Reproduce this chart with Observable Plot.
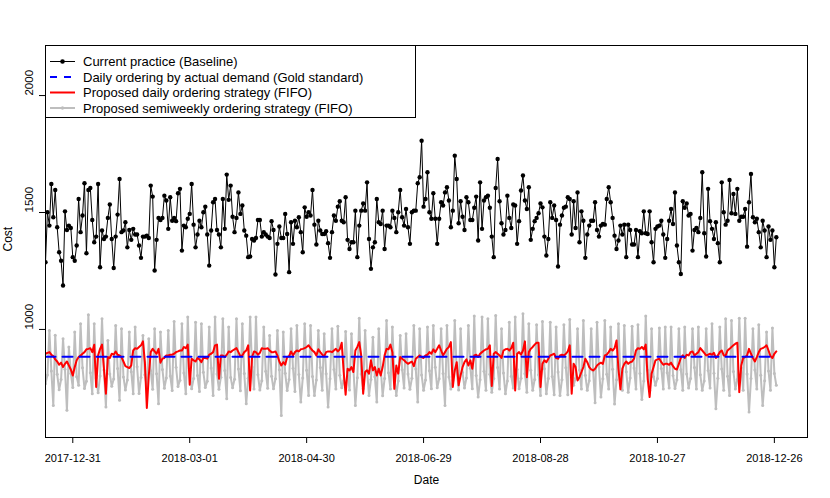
<!DOCTYPE html>
<html><head><meta charset="utf-8">
<script src="https://cdn.jsdelivr.net/npm/d3@7"></script>
<script src="https://cdn.jsdelivr.net/npm/@observablehq/plot@0.6"></script>
<style>
body{margin:0;background:#fff;}
#chart{position:relative;width:830px;height:498px;}
</style>
</head><body><div id="chart"></div>
<script>
// ---------- data ----------
const startDate = "2017-12-17";
const seriesNames = [
  "Current practice (Baseline)",
  "Daily ordering by actual demand (Gold standard)",
  "Proposed daily ordering strategy (FIFO)",
  "Proposed semiweekly ordering strategy (FIFO)"
];
const xTickLabels = ["2017-12-31","2018-03-01","2018-04-30","2018-06-29","2018-08-28","2018-10-27","2018-12-26"];
const yTicks = [1000, 1500, 2000];
const goldStandard = 883;

const baseline = [
1287,1501,1444,1622,1480,1596,1437,1330,1294,1188,1505,1425,1444,1434,1309,1294,1359,1558,1416,1487,
1625,1326,1596,1605,1468,1373,1397,1622,1266,1423,1387,1397,1477,1534,1387,1263,1397,1491,1643,1416,
1423,1458,1351,1425,1383,1430,1406,1406,1359,1306,1397,1397,1401,1391,1615,1568,1252,1383,1477,1468,
1477,1572,1551,1430,1565,1465,
1477,1463,1582,1601,1337,1444,1437,1473,1494,1622,1448,1351,1406,1465,1437,1501,1525,1406,1273,1423,
1544,1558,1425,1406,1351,1558,1430,1662,1554,1615,1482,1416,1477,1586,1494,1530,1423,1401,1309,1312,
1387,1380,1391,1468,1468,1397,1416,1406,1397,1391,1463,1425,1235,1366,1440,1391,1391,1494,1408,1245,
1458,1366,1465,
1437,1480,1416,1330,1522,1482,1501,1487,1596,1448,1363,1465,1423,1408,1408,1420,1369,1306,1416,1487,
1465,1525,1548,1465,1458,1565,1383,1344,1373,1373,1508,1309,1444,1508,1539,1508,1629,1387,1259,1351,
1373,1558,1458,1451,1508,1344,1444,1444,1437,1508,1477,1416,1501,1596,1480,1444,1515,1437,1366,1501,
1508,1508,1625,1651,
1807,1525,1558,1672,1501,1473,1582,1473,1366,1473,1544,1530,1586,1608,1551,1437,1508,1743,1643,1454,
1548,1482,1425,1565,1544,1468,1468,1520,1568,1380,1629,1430,1551,1565,1572,1520,1397,1309,1605,1729,
1548,1454,1406,1425,1572,1477,1434,1534,1530,1366,1463,1594,1658,1551,1515,1608,1383,1430,1463,1477,
1497,1539,1522,
1397,1316,1387,1544,1477,1530,1468,1269,1448,1487,1520,1525,1565,1558,1406,1548,1434,1586,1373,1505,
1465,1306,1406,1444,1465,1465,1544,1425,1397,1444,1451,1448,1558,1608,1544,1477,1401,1344,1380,1444,
1406,1448,1309,1448,1425,1363,1363,1425,1309,1420,1411,1505,1411,1408,1505,1373,1287,1430,1440,1444,
1465,1406,1306,
1387,1465,1515,1451,1586,1359,1287,1237,1548,1520,1539,1487,1494,1337,1425,1434,1416,1477,1672,1411,
1312,1601,1463,1430,1387,1458,1369,1287,1629,1501,1448,1465,1639,1497,1579,1494,1601,1465,1482,1482,
1515,1354,1544,1665,1480,1458,1473,1416,1351,1465,1423,1309,1440,1383,1423,1266,1394
];

const fifoDaily = [
896,900,903,892,886,872,863,849,858,839,853,863,846,829,803,839,868,882,889,896,
903,915,917,920,903,935,754,889,917,935,832,725,882,878,896,892,906,892,889,882,
863,843,839,835,846,910,920,917,925,932,949,860,664,803,903,917,906,896,917,858,
875,878,889,889,892,892,896,903,906,910,910,925,920,935,764,875,868,863,878,872,
860,878,878,875,892,896,903,932,935,789,889,889,882,892,906,903,910,915,920,903,
886,889,903,910,932,739,882,906,903,892,900,920,917,917,920,910,903,903,906,889,
863,846,860,849,882,886,
906,889,903,910,906,915,917,920,925,932,920,910,903,889,915,903,892,886,903,906,
906,903,910,917,906,915,943,818,721,832,825,839,818,910,925,946,889,725,818,825,
811,868,825,839,803,832,803,839,889,917,915,935,903,746,846,811,882,875,868,860,
853,858,863,843,875,882,889,882,878,889,892,903,896,915,903,917,932,910,
889,903,917,925,946,754,825,860,761,803,839,860,872,846,868,832,889,892,882,896,
903,910,915,917,932,758,896,903,896,889,878,910,915,917,910,920,943,739,896,903,
892,910,949,796,903,917,925,935,943,
943,754,853,868,860,875,889,892,896,878,875,889,892,889,896,906,932,725,853,839,
782,796,818,839,875,860,839,829,825,832,846,853,858,853,889,892,903,917,910,920,
953,832,744,832,853,863,853,860,863,875,910,920,917,925,915,935,789,711,811,839,
868,872,875,860,849,853,853,849,858,843,832,829,853,878,889,878,892,889,903,
906,889,896,903,920,910,900,889,892,896,892,900,878,889,903,910,889,889,910,
917,925,932,939,943,732,846,878,882,889,917,896,878,863,882,903,917,920,925,932,
910,886,878,896,906
];

const semiweekly = [
768,805,
996,822,675, 975,808,742,786, 960,830,654, 925,812,752, 989,798,761, 1024,836,748,779,
1063,815,725, 1024,792,729,801, 1046,827,668, 953,810,757,788, 1017,833,697, 1003,797,741,784,
989,819,725, 1010,840,726,795, 974,806,751, 960,823,744, 1003,811,682, 989,829,749,792,
996,801,739, 1034,838,756,783, 1024,814,725, 1053,826,746,790, 1031,803,735, 1024,817,752,778,
1010,835,718, 1053,809,744,796, 1046,824,704, 1010,795,751,787, 1046,831,738, 1024,812,682,791,
1053,839,745, 1053,806,741,781, 1010,821,749, 974,800,746,789, 996,828,632, 989,813,739,786,
1003,834,735,
1017,807,690,792, 1024,825,718, 1017,799,718,784, 996,837,740, 982,811,668,789, 1003,829,745,
1014,804,751,781, 991,820,741, 982,833,675,793, 1048,810,746, 996,826,718,786, 967,798,690,
1003,836,717,790, 1038,815,745, 1010,802,718,780, 974,828,750, 982,809,744,791, 1017,831,690,
1003,805,740,784, 1010,823,746, 1017,838,751,789, 1003,812,675, 1017,797,745,782, 1038,826,741,
1003,816,750,792, 1017,834,746, 1057,803,711,785, 1053,821,740, 1046,808,732,790, 1060,837,745,
1003,814,725,780, 1031,800,750, 1053,829,746,791, 1067,811,732, 1024,825,740,786,
1020,806,718, 1034,832,725,790, 1031,799,721, 1010,818,718,785, 1020,836,721, 1043,810,761,791,
1003,827,745, 1038,804,740,781, 1003,822,687, 1031,839,711,789, 1038,808,745, 1010,830,681,785,
1024,801,740, 1017,819,732,792, 1014,835,745, 1020,812,701,780, 1057,826,740, 1003,798,761,790,
1006,833,745, 1010,815,750, 1010,803,747,785, 1003,828,740, 1010,810,750,790, 1003,837,745,
1010,806,740,780, 1003,824,750, 1024,813,661,791, 1010,831,740, 1046,800,718, 1038,820,745,786,
1048,835,740, 1048,809,647,790, 1003,827,745, 1020,804,675,781, 989,822,740, 1006,812,761
];

// ---------- build tables ----------
const t0 = new Date(startDate + "T00:00:00Z");
const day = 864e5;
const toRows = vals => vals.map((v, i) => ({date: new Date(t0.getTime() + i * day), value: v}));
const baseRows = toRows(baseline);
const fifoRows = toRows(fifoDaily);
const semiRows = toRows(semiweekly);
const goldRows = baseRows.map(d => ({date: d.date, value: goldStandard}));
const xTicks = xTickLabels.map(s => new Date(s + "T00:00:00Z"));

const font = "'Liberation Sans', Arial, Helvetica, sans-serif";

const chart = Plot.plot({
  width: 830,
  height: 498,
  marginLeft: 45,
  marginRight: 23,
  marginTop: 45,
  marginBottom: 61,
  style: {fontFamily: font, background: "white", color: "black"},
  x: {type: "utc", domain: [new Date("2017-12-17T00:00:00Z"), new Date("2019-01-12T00:00:00Z")]},
  y: {domain: [538, 2214]},
  marks: [
    Plot.lineY(baseRows, {x: "date", y: "value", stroke: "black", strokeWidth: 1, clip: true}),
    Plot.dot(baseRows, {x: "date", y: "value", r: 2.2, fill: "black", stroke: "none", clip: true}),
    Plot.lineY(semiRows, {x: "date", y: "value", stroke: "#bebebe", strokeWidth: 2, clip: true}),
    Plot.dot(semiRows, {x: "date", y: "value", r: 1.5, fill: "#bebebe", stroke: "none", clip: true}),
    Plot.lineY(fifoRows, {x: "date", y: "value", stroke: "#ff0000", strokeWidth: 2, clip: true}),
    Plot.lineY(goldRows, {x: "date", y: "value", stroke: "#0000ff", strokeWidth: 2, strokeDasharray: "10,7", clip: true}),
    Plot.frame({stroke: "black"}),
    Plot.axisX({ticks: xTicks, tickFormat: d3.utcFormat("%Y-%m-%d"), tickSize: 6, tickPadding: 11, fontSize: 11, label: null}),
    Plot.axisY({ticks: yTicks, tickSize: 6, tickFormat: () => "", label: null}),
    Plot.text(yTicks, {y: d => d, frameAnchor: "left", dx: -16, rotate: -90, text: d => String(d), fontSize: 11.5}),
    Plot.text(["Date"], {frameAnchor: "bottom", dy: 46, text: d => d, fontSize: 12}),
    Plot.text(["Cost"], {frameAnchor: "left", dx: -37, dy: 10, rotate: -90, text: d => d, fontSize: 12})
  ]
});
document.getElementById("chart").appendChild(chart);

// ---------- legend (inside top-left of plot) ----------
const legendStyles = [
  {color: "black", width: 1, dash: null, dot: 2.3},
  {color: "#0000ff", width: 2, dash: "7,7", dot: 0},
  {color: "#ff0000", width: 2, dash: null, dot: 0},
  {color: "#bebebe", width: 2, dash: null, dot: 1.7}
];
const svg = d3.select(chart.tagName.toLowerCase() === "svg" ? chart : chart.querySelector("svg"));
const lg = svg.append("g").attr("font-family", font).attr("text-anchor", "start");
lg.append("rect").attr("x", 45.5).attr("y", 45.5).attr("width", 370).attr("height", 72)
  .attr("fill", "white").attr("stroke", "black").attr("stroke-width", 1);
seriesNames.forEach((name, i) => {
  const y = 61.5 + i * 15.5;
  const s = legendStyles[i];
  lg.append("line").attr("x1", 50).attr("x2", 75).attr("y1", y).attr("y2", y)
    .attr("stroke", s.color).attr("stroke-width", s.width)
    .attr("stroke-dasharray", s.dash);
  if (s.dot) lg.append("circle").attr("cx", 62.5).attr("cy", y).attr("r", s.dot).attr("fill", s.color);
  lg.append("text").attr("x", 83).attr("y", y).attr("dy", "0.35em")
    .attr("text-anchor", "start").attr("font-size", 13).attr("fill", "black").text(name);
});
</script>
</body></html>
